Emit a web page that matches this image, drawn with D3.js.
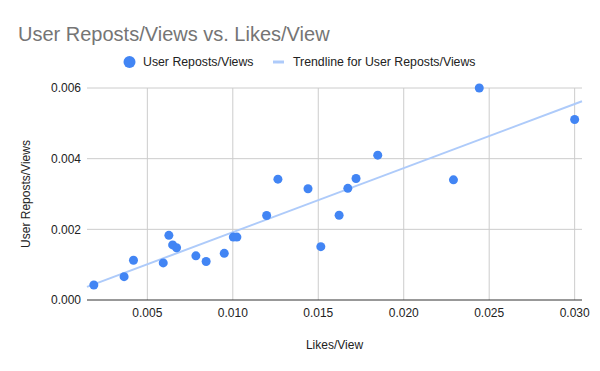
<!DOCTYPE html>
<html>
<head>
<meta charset="utf-8">
<script src="https://cdn.jsdelivr.net/npm/d3@7.9.0/dist/d3.min.js"></script>
<style>
  body { margin: 0; background: #fff; }
  text { font-family: Arial, "Liberation Sans", sans-serif; }
</style>
</head>
<body>
<div id="chart"></div>
<script>
// Likes/View (x) against User Reposts/Views (y)
const likesPerView = [
  0.00187, 0.00364, 0.00419, 0.00593, 0.00626, 0.00648, 0.00671, 0.00784,
  0.00844, 0.0095, 0.01003, 0.01024, 0.01198, 0.01264, 0.0144, 0.01515,
  0.01622, 0.01673, 0.01721, 0.01848, 0.02291, 0.02442, 0.030
];
const repostsPerView = [
  0.000425, 0.00066, 0.001125, 0.00105, 0.00183, 0.00156, 0.00148, 0.00125,
  0.00109, 0.00132, 0.00178, 0.00178, 0.00239, 0.00342, 0.00315, 0.00151,
  0.0024, 0.00316, 0.00344, 0.0041, 0.0034, 0.006, 0.00511
];
const xTicks = [0.005, 0.010, 0.015, 0.020, 0.025, 0.030];
const yTicks = [0, 0.002, 0.004, 0.006];

const points = likesPerView.map((x, i) => ({ x, y: repostsPerView[i] }));

// least squares trendline, like the spreadsheet does
function linearFit(pts) {
  const mx = d3.mean(pts, d => d.x);
  const my = d3.mean(pts, d => d.y);
  let num = 0, den = 0;
  pts.forEach(d => { num += (d.x - mx) * (d.y - my); den += (d.x - mx) ** 2; });
  const slope = num / den;
  return { slope, intercept: my - slope * mx };
}
const fit = linearFit(points);

const width = 600, height = 371;
const margin = { top: 88, right: 18, bottom: 71, left: 87 };

const svg = d3.select("#chart").append("svg")
  .attr("width", width)
  .attr("height", height);

const x = d3.scaleLinear()
  .domain([0.00147, 0.03043])
  .range([margin.left, width - margin.right]);

const y = d3.scaleLinear()
  .domain([0, 0.006])
  .range([height - margin.bottom, margin.top]);

// title
svg.append("text")
  .attr("x", 18)
  .attr("y", 41)
  .style("font-size", "20px")
  .style("fill", "#757575")
  .text("User Reposts/Views vs. Likes/View");

// legend
const legend = svg.append("g").attr("transform", "translate(0,62)");
legend.append("circle")
  .attr("cx", 129.5).attr("cy", 0).attr("r", 6)
  .attr("fill", "#4285f4");
legend.append("text")
  .attr("x", 143).attr("y", 0).attr("dy", "0.35em")
  .style("font-size", "12.3px").style("fill", "#222")
  .text("User Reposts/Views");
legend.append("line")
  .attr("x1", 273).attr("x2", 284).attr("y1", 0).attr("y2", 0)
  .attr("stroke", "#aecbfa").attr("stroke-width", 3);
legend.append("text")
  .attr("x", 293).attr("y", 0).attr("dy", "0.35em")
  .style("font-size", "12.3px").style("fill", "#222")
  .text("Trendline for User Reposts/Views");

// gridlines
svg.append("g")
  .selectAll("line")
  .data(yTicks.filter(d => d > 0))
  .join("line")
    .attr("x1", margin.left).attr("x2", width - margin.right)
    .attr("y1", d => y(d)).attr("y2", d => y(d))
    .attr("stroke", "#cccccc");

svg.append("g")
  .selectAll("line")
  .data(xTicks)
  .join("line")
    .attr("x1", d => x(d)).attr("x2", d => x(d))
    .attr("y1", margin.top).attr("y2", height - margin.bottom)
    .attr("stroke", "#cccccc");

// baseline
svg.append("line")
  .attr("x1", margin.left).attr("x2", width - margin.right)
  .attr("y1", y(0)).attr("y2", y(0))
  .attr("stroke", "#333");

// tick labels
svg.append("g")
  .selectAll("text")
  .data(yTicks)
  .join("text")
    .attr("x", margin.left - 6)
    .attr("y", d => y(d))
    .attr("dy", "0.35em")
    .attr("text-anchor", "end")
    .style("font-size", "12px").style("fill", "#222")
    .text(d => d.toFixed(3));

svg.append("g")
  .selectAll("text")
  .data(xTicks)
  .join("text")
    .attr("x", d => x(d))
    .attr("y", y(0) + 13)
    .attr("dy", "0.35em")
    .attr("text-anchor", "middle")
    .style("font-size", "12px").style("fill", "#222")
    .text(d => d.toFixed(3));

// axis titles
svg.append("text")
  .attr("x", (margin.left + width - margin.right) / 2)
  .attr("y", 345)
  .attr("dy", "0.35em")
  .attr("text-anchor", "middle")
  .style("font-size", "12px").style("fill", "#222")
  .text("Likes/View");

svg.append("text")
  .attr("transform", `translate(26,${(margin.top + height - margin.bottom) / 2}) rotate(-90)`)
  .attr("dy", "0.35em")
  .attr("text-anchor", "middle")
  .style("font-size", "12px").style("fill", "#222")
  .text("User Reposts/Views");

// trendline
const [x0, x1] = x.domain();
svg.append("line")
  .attr("x1", x(x0)).attr("y1", y(fit.intercept + fit.slope * x0))
  .attr("x2", x(x1)).attr("y2", y(fit.intercept + fit.slope * x1))
  .attr("stroke", "#aecbfa")
  .attr("stroke-width", 2);

// points
svg.append("g")
  .selectAll("circle")
  .data(points)
  .join("circle")
    .attr("cx", d => x(d.x))
    .attr("cy", d => y(d.y))
    .attr("r", 4.5)
    .attr("fill", "#4285f4");
</script>
</body>
</html>
